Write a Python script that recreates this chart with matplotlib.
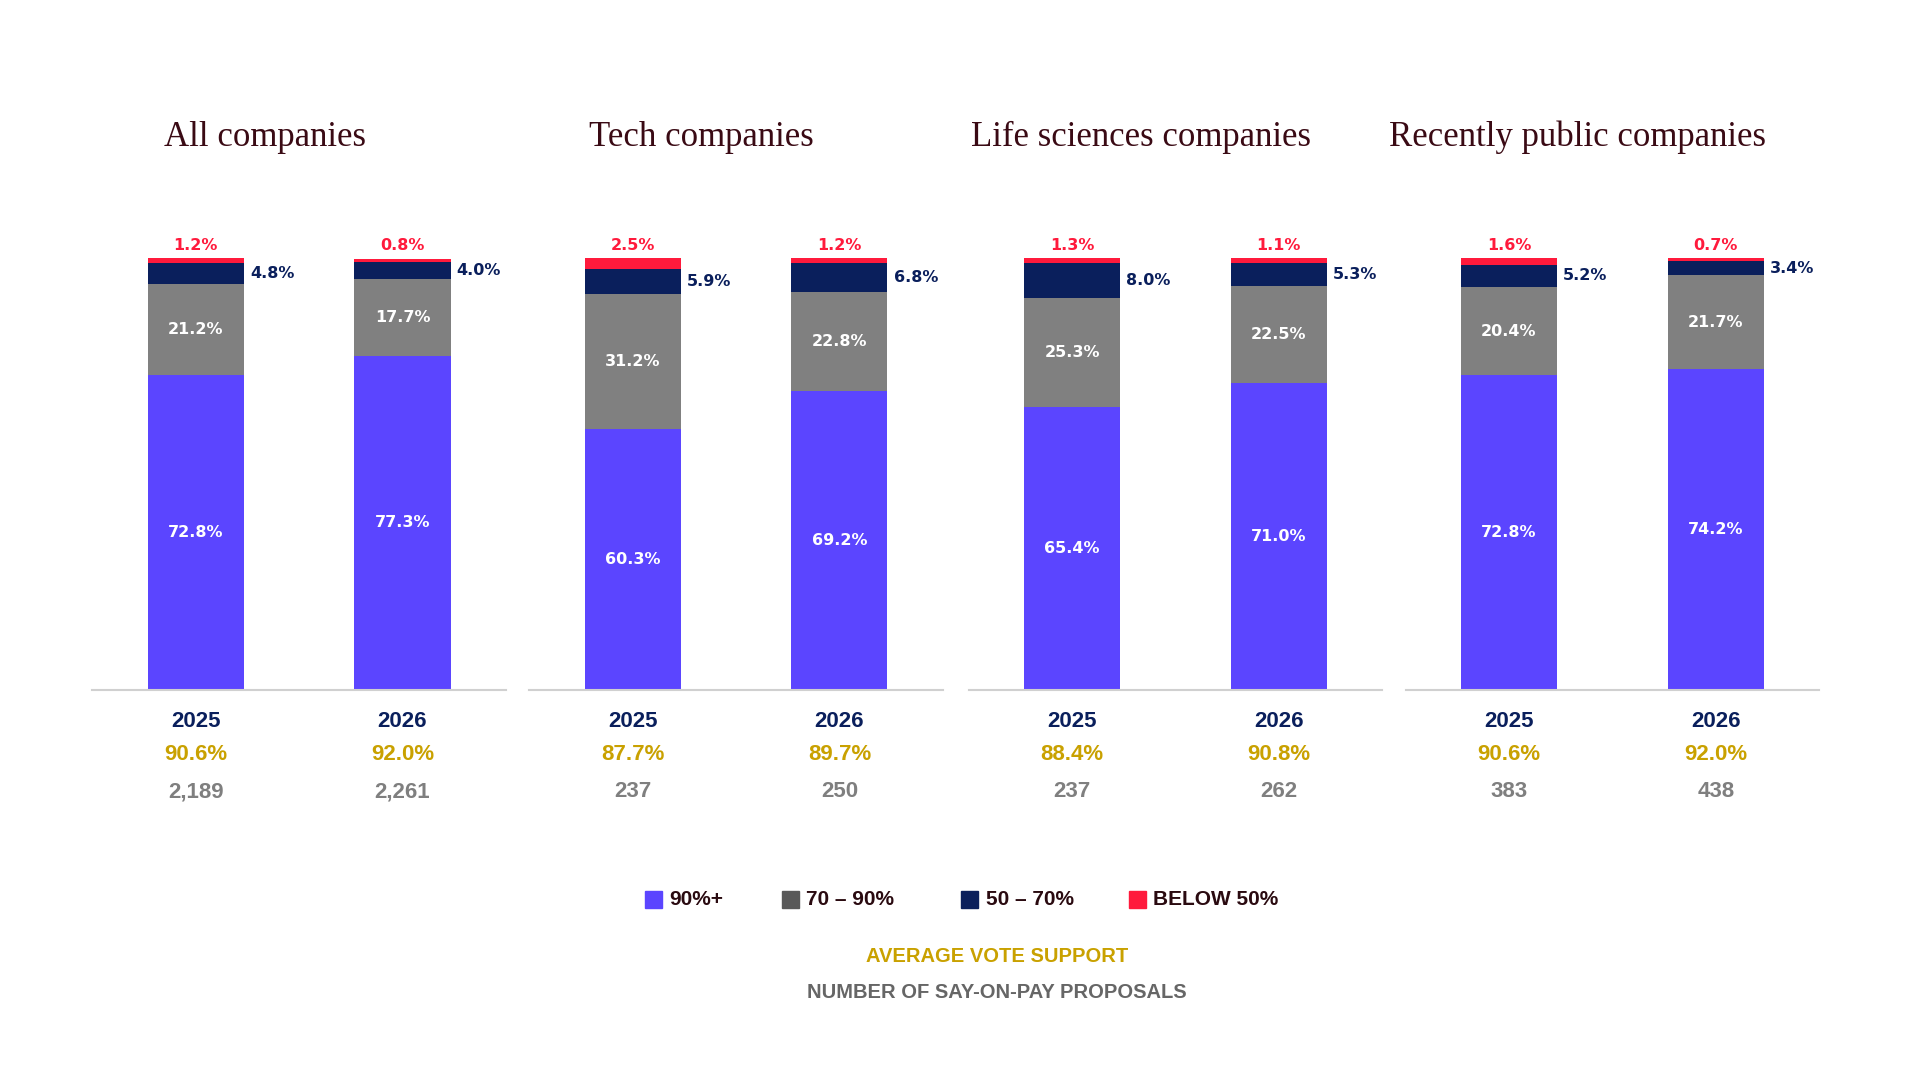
import matplotlib
matplotlib.use("Agg")
import matplotlib.pyplot as plt
from matplotlib.patches import Rectangle

panels = ["All companies", "Tech companies", "Life sciences companies", "Recently public companies"]
years = ["2025", "2026"]
s90 = [[72.8, 77.3], [60.3, 69.2], [65.4, 71.0], [72.8, 74.2]]
s70 = [[21.2, 17.7], [31.2, 22.8], [25.3, 22.5], [20.4, 21.7]]
s50 = [[4.8, 4.0], [5.9, 6.8], [8.0, 5.3], [5.2, 3.4]]
sbelow = [[1.2, 0.8], [2.5, 1.2], [1.3, 1.1], [1.6, 0.7]]
avg_support = [["90.6%", "92.0%"], ["87.7%", "89.7%"], ["88.4%", "90.8%"], ["90.6%", "92.0%"]]
n_proposals = [["2,189", "2,261"], ["237", "250"], ["237", "262"], ["383", "438"]]
legend_labels = ["90%+", "70 – 90%", "50 – 70%", "BELOW 50%"]

C_BLUE, C_GRAY, C_NAVY, C_RED = "#5B45FF", "#808080", "#0A1F5C", "#FF1A3C"
C_GOLD, C_TXTGRAY, C_TITLE = "#C9A100", "#7F7F7F", "#3A0A14"
colors = [C_BLUE, C_GRAY, C_NAVY, C_RED]

W, H = 1560.0, 880.0
fig = plt.figure(figsize=(19.2, 10.8), dpi=100)
fig.patch.set_facecolor("white")
lefts = [75, 430, 787, 1142]
pw = 336
bot = 1 - 562 / H
ah = (562 - 210) / H
sans = ["Liberation Sans", "DejaVu Sans"]
seg = "DejaVu Sans"

for i, name in enumerate(panels):
    ax = fig.add_axes([lefts[i] / W, bot, pw / W, ah])
    ax.set_xlim(0, 2)
    ax.set_ylim(0, 100)
    ax.axis("off")
    ax.axhline(0, color="#D0D0D0", lw=1.5, clip_on=False)
    xs = [0.5, 1.5]
    bw = 0.465
    for j in range(2):
        vals = [s90[i][j], s70[i][j], s50[i][j], sbelow[i][j]]
        ax.bar([xs[j]] * 4, vals, bottom=[0, vals[0], vals[0] + vals[1], vals[0] + vals[1] + vals[2]],
               width=bw, color=colors)
        b = 0
        for k, v in enumerate(vals):
            mid = b + v / 2
            if k < 2:
                ax.text(xs[j], mid, f"{v:.1f}%", ha="center", va="center", color="white",
                        fontsize=11.5, fontweight="bold", family=seg)
            elif k == 2:
                ax.text(xs[j] + bw / 2 + 0.03, mid, f"{v:.1f}%", ha="left", va="center", color=C_NAVY,
                        fontsize=11.5, fontweight="bold", family=seg)
            else:
                ax.text(xs[j], b + v + 1.2, f"{v:.1f}%", ha="center", va="bottom", color=C_RED,
                        fontsize=11.5, fontweight="bold", family=seg)
            b += v
        xc = (lefts[i] + pw * (0.25 + 0.5 * j)) / W
        fig.text(xc, 1 - 588 / H, years[j], ha="center", va="center", color=C_NAVY,
                 fontsize=16, fontweight="bold", family=sans)
        fig.text(xc, 1 - 615 / H, avg_support[i][j], ha="center", va="center", color=C_GOLD,
                 fontsize=16, fontweight="bold", family=sans)
        fig.text(xc, 1 - 645 / H, n_proposals[i][j], ha="center", va="center", color=C_TXTGRAY,
                 fontsize=16, fontweight="bold", family=sans)
    fig.text((lefts[i] + pw / 2 - 28) / W, 1 - 112 / H, name, ha="center", va="center",
             color=C_TITLE, fontsize=25, family=["Liberation Serif", "DejaVu Serif"])

# legend
leg_x = [531, 642, 788, 924]
for k, lab in enumerate(legend_labels):
    sq = 14
    fig.patches.append(Rectangle(((leg_x[k] - 7) / W, 1 - (733 + 7) / H), sq / W, sq / H,
                                 transform=fig.transFigure, color=colors[k] if k != 1 else "#595959"))
    fig.text((leg_x[k] + 13) / W, 1 - 733 / H, lab, ha="left", va="center", color="#2A0A10",
             fontsize=15, fontweight="bold", family=sans)

fig.text(810 / W, 1 - 779 / H, "AVERAGE VOTE SUPPORT", ha="center", va="center", color=C_GOLD,
         fontsize=14.5, fontweight="bold", family=sans)
fig.text(810 / W, 1 - 809 / H, "NUMBER OF SAY-ON-PAY PROPOSALS", ha="center", va="center",
         color="#666666", fontsize=14.5, fontweight="bold", family=sans)

fig.savefig("out.png", dpi=100, facecolor="white")
